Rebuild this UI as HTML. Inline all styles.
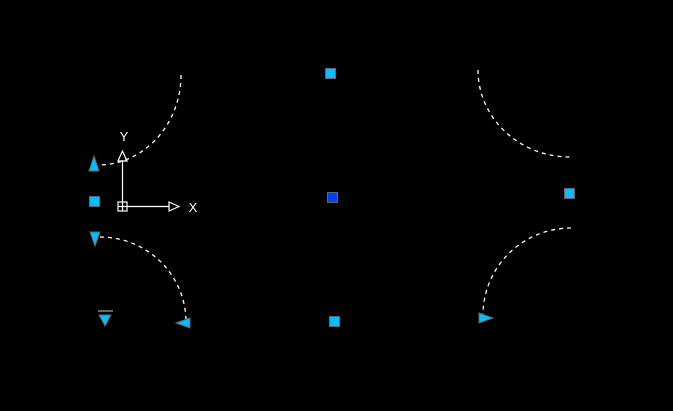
<!DOCTYPE html>
<html><head><style>
html,body{margin:0;padding:0;background:#000;}
svg{display:block;}
</style></head><body>
<svg width="673" height="411" viewBox="0 0 673 411" xmlns="http://www.w3.org/2000/svg">
<rect width="673" height="411" fill="#000"/>
<g fill="none" stroke="#fff" stroke-width="1.3" stroke-dasharray="4,4">
<path d="M181,75 A83,90 0 0 1 100,165"/>
<path d="M100,237 A86,85 0 0 1 186,322"/>
<path d="M478,70 A92,87 0 0 0 570,157"/>
<path d="M571,228 A88,87 0 0 0 483,315"/>
</g>
<g fill="#00bfff" stroke="#666" stroke-width="1">
<rect x="325.5" y="68.5" width="10" height="10"/>
<rect x="329.5" y="316.5" width="10" height="10"/>
<rect x="564.5" y="188.5" width="10" height="10"/>
<rect x="89.5" y="196.5" width="10" height="10"/>
<rect x="327.5" y="192.5" width="10" height="10" fill="#0040ff"/>
<polygon points="94,156 89,171 99,171"/>
<polygon points="90,232 100,232 95,246"/>
<polygon points="99,315 111,315 105,326"/>
<polygon points="176,323 190,318 190,328"/>
<polygon points="479,313 479,323 493,318"/>
</g>
<line x1="98" y1="311" x2="113" y2="311" stroke="#888" stroke-width="1.5"/>
<g stroke="#fff" stroke-width="1.2" fill="none">
<rect x="118" y="202" width="9" height="9"/>
<line x1="122.5" y1="202" x2="122.5" y2="211"/>
<line x1="118" y1="206.5" x2="127" y2="206.5"/>
<line x1="122.5" y1="202" x2="122.5" y2="160"/>
<polygon points="122.5,151 118,161 127,161"/>
<line x1="127" y1="206.5" x2="169" y2="206.5"/>
<polygon points="179,206.5 169,202 169,211"/>
</g>
<text x="124" y="141" fill="#fff" font-family="Liberation Sans, sans-serif" font-size="13" text-anchor="middle">Y</text>
<text x="193" y="212" fill="#fff" font-family="Liberation Sans, sans-serif" font-size="13" text-anchor="middle">X</text>
</svg>
</body></html>
